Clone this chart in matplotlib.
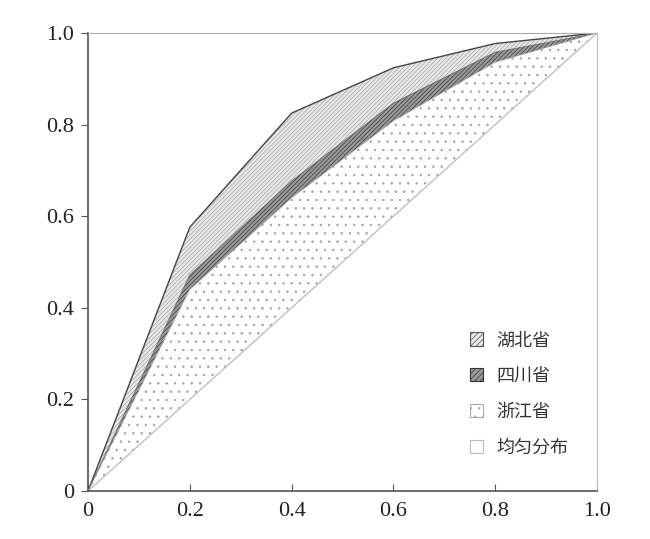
import numpy as np
import matplotlib.pyplot as plt
from matplotlib.patches import Patch

plt.rcParams['hatch.linewidth'] = 0.5

# cumulative share (Lorenz curves)
pop_share = [0.0, 0.2, 0.4, 0.6, 0.8, 1.0]
hubei = [0.0, 0.576, 0.825, 0.924, 0.977, 1.0]
sichuan = [0.0, 0.472, 0.677, 0.847, 0.958, 1.0]
zhejiang = [0.0, 0.440, 0.640, 0.808, 0.936, 1.0]
uniform = [0.0, 0.2, 0.4, 0.6, 0.8, 1.0]
labels = ["湖北省", "四川省", "浙江省", "均匀分布"]

fig = plt.figure(figsize=(6.5, 5.39), dpi=100)
ax = fig.add_axes([0.1354, 0.089, 0.7831, 0.8498])

ax.fill_between(pop_share, sichuan, hubei, facecolor="#e8e8e8",
                edgecolor="#a5a5a5", hatch="////////", linewidth=0)
ax.fill_between(pop_share, zhejiang, sichuan, facecolor="#9a9a9a",
                edgecolor="#3a3a3a", hatch="////////", linewidth=0)
ax.fill_between(pop_share, uniform, zhejiang, facecolor="white",
                edgecolor="#a0a0a0", hatch="..", linewidth=0)

ax.plot(pop_share, hubei, color="#444444", lw=1.0)
ax.plot(pop_share, sichuan, color="#666666", lw=0.5)
ax.plot(pop_share, zhejiang, color="#999999", lw=0.4)
ax.plot(pop_share, uniform, color="#c0c0c0", lw=1.0)

ax.set_xlim(0, 1)
ax.set_ylim(0, 1)
ax.set_xticks([0, 0.2, 0.4, 0.6, 0.8, 1.0])
ax.set_xticklabels(["0", "0.2", "0.4", "0.6", "0.8", "1.0"])
ax.set_yticks([0, 0.2, 0.4, 0.6, 0.8, 1.0])
ax.set_yticklabels(["0", "0.2", "0.4", "0.6", "0.8", "1.0"])
for lab in ax.get_xticklabels() + ax.get_yticklabels():
    lab.set_fontfamily("Liberation Serif")
    lab.set_fontsize(16)
    lab.set_color("#222222")
ax.tick_params(axis="x", direction="in", length=5, color="#555555", pad=8)
ax.tick_params(axis="y", direction="out", length=5, color="#555555", pad=5)

ax.spines["left"].set_color("#555555")
ax.spines["bottom"].set_color("#555555")
ax.spines["left"].set_linewidth(1.2)
ax.spines["bottom"].set_linewidth(1.2)
ax.spines["top"].set_color("#aaaaaa")
ax.spines["right"].set_color("#bbbbbb")

handles = [
    Patch(facecolor="#e8e8e8", edgecolor="#555555", hatch="//////", lw=0.8),
    Patch(facecolor="#9a9a9a", edgecolor="#333333", hatch="//////", lw=0.8),
    Patch(facecolor="white", edgecolor="#aaaaaa", hatch="..", lw=0.8),
    Patch(facecolor="white", edgecolor="#bbbbbb", lw=0.8),
]
ax.legend(handles, labels, loc="lower right", bbox_to_anchor=(0.975, 0.04),
          frameon=False, handlelength=0.75, handleheight=0.75,
          labelspacing=0.98, handletextpad=0.7,
          prop={"family": "Noto Sans CJK SC", "size": 13}, labelcolor="#333333")

fig.savefig("out.png", dpi=100)
